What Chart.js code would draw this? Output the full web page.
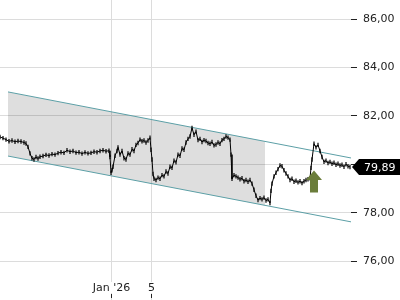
<!DOCTYPE html>
<html>
<head>
<meta charset="utf-8">
<script src="https://cdn.jsdelivr.net/npm/chart.js@4.4.1/dist/chart.umd.min.js"></script>
<style>
  html, body { margin: 0; padding: 0; background: #fff; }
  #chart { display: block; }
</style>
</head>
<body>
<canvas id="chart" width="400" height="300"></canvas>
<script>
// bar index (one per intraday bar) and close price
const barIndex = [0,3,6,9,12,15,18,21,24,26,28,30,32,34,36,38,40,43,46,49,52,55,58,61,64,67,70,73,76,79,82,85,88,91,94,97,100,103,106,109,110,111,112,113,115,117,118,120,122,124,126,128,130,132,134,136,138,140,142,144,146,148,150,151,152,153,154,156,158,160,162,164,166,168,170,172,174,176,178,180,182,184,186,188,190,192,194,196,198,200,202,204,206,208,210,212,214,216,218,220,222,224,226,228,230,231,232,234,236,238,240,242,244,246,248,250,252,254,256,258,260,262,264,266,268,270,271,272,274,276,278,280,282,284,286,288,290,292,294,296,298,300,302,304,306,308,310,311,312,314,316,318,320,322,324,326,328,330,332,334,336,338,340,342,344,346,348,350];
const closes = [81.13,81.08,81.02,80.95,80.98,80.93,80.96,80.94,80.90,80.86,80.72,80.45,80.25,80.20,80.30,80.24,80.31,80.34,80.39,80.36,80.42,80.40,80.46,80.50,80.47,80.58,80.52,80.55,80.48,80.50,80.44,80.49,80.45,80.47,80.52,80.50,80.55,80.58,80.54,80.56,80.30,79.65,79.75,79.90,80.35,80.55,80.70,80.40,80.55,80.25,80.20,80.45,80.40,80.62,80.55,80.80,80.88,81.02,80.95,80.98,80.90,80.98,81.10,80.60,80.20,79.60,79.40,79.35,79.45,79.40,79.55,79.50,79.70,79.62,79.90,79.85,80.15,80.08,80.40,80.35,80.65,80.60,80.90,81.05,81.15,81.50,81.22,81.35,81.00,81.05,80.92,81.00,80.96,80.88,80.85,80.92,80.78,80.82,80.90,80.85,81.00,81.05,81.15,81.10,81.02,80.40,79.40,79.55,79.50,79.45,79.38,79.42,79.30,79.35,79.28,79.35,79.20,78.95,78.70,78.52,78.60,78.55,78.62,78.50,78.55,78.40,78.90,79.20,79.50,79.65,79.80,79.95,79.92,79.75,79.62,79.50,79.35,79.40,79.28,79.32,79.25,79.30,79.22,79.30,79.35,79.38,79.42,79.85,80.20,80.85,80.70,80.80,80.55,80.30,80.10,80.15,80.05,80.10,80.02,80.06,79.98,80.02,79.95,79.98,79.90,80.00,79.92,79.89];

// trend channel (two parallel lines) and shaded part of it
const channelX = [8, 351];
const channelUpper = [82.99, 80.26];
const channelLower = [80.34, 77.62];
const shadeX = [8, 265];
const shadeUpper = [82.99, 80.95];
const shadeLower = [80.34, 78.30];

const lastPrice = 79.89;
const signalBar = 314;
const signalPrice = 79.74;

const yTicks = [76, 78, 80, 82, 84, 86];
const xTickPos = [111, 151];
const xTickLabels = ["Jan '26", "5"];

const pts = (xs, ys) => xs.map((x, i) => ({ x: x, y: ys[i] }));
const fmt = v => v.toFixed(2).replace('.', ',');
const FONT = '11px "DejaVu Sans", sans-serif';

const overlay = {
  id: 'overlay',
  afterDraw(chart) {
    const c = chart.ctx;
    const xs = chart.scales.x, ys = chart.scales.y;
    c.save();
    // x labels
    c.font = FONT;
    c.textAlign = 'center';
    c.textBaseline = 'middle';
    xTickPos.forEach((v, i) => {
      const px = Math.round(xs.getPixelForValue(v)) + 0.5;
      c.fillStyle = '#fff';
      const w = c.measureText(xTickLabels[i]).width;
      c.fillRect(px - w / 2 - 1, 282, w + 2, 11);
      c.fillStyle = '#222';
      c.fillText(xTickLabels[i], px, 288);
      c.strokeStyle = '#222';
      c.lineWidth = 1;
      c.beginPath();
      c.moveTo(px, 294);
      c.lineTo(px, 298);
      c.stroke();
    });
    // buy signal arrow
    const ax = xs.getPixelForValue(signalBar);
    const ay = ys.getPixelForValue(signalPrice);
    c.fillStyle = '#6b7d3b';
    c.beginPath();
    c.moveTo(ax, ay);
    c.lineTo(ax + 8, ay + 9.5);
    c.lineTo(ax + 4, ay + 9.5);
    c.lineTo(ax + 4, ay + 22);
    c.lineTo(ax - 4, ay + 22);
    c.lineTo(ax - 4, ay + 9.5);
    c.lineTo(ax - 8, ay + 9.5);
    c.closePath();
    c.fill();
    // last price box
    const py = ys.getPixelForValue(lastPrice);
    const left = chart.chartArea.right + 1;
    c.fillStyle = '#000';
    c.beginPath();
    c.moveTo(left, py);
    c.lineTo(left + 7, py - 8);
    c.lineTo(400, py - 8);
    c.lineTo(400, py + 8);
    c.lineTo(left + 7, py + 8);
    c.closePath();
    c.fill();
    c.fillStyle = '#fff';
    c.textAlign = 'left';
    c.fillText(fmt(lastPrice), 364, py + 1);
    c.restore();
  }
};

const ctx = document.getElementById('chart').getContext('2d');
const chart = new Chart(ctx, {
  type: 'line',
  data: {
    datasets: [
      {
        label: 'Close',
        data: pts(barIndex, closes),
        borderColor: '#000',
        borderWidth: 1,
        pointRadius: 0,
        tension: 0,
        order: 0
      },
      {
        label: 'Bars',
        data: pts(barIndex, closes),
        showLine: false,
        pointStyle: 'line',
        rotation: 90,
        pointRadius: 2.2,
        pointBorderColor: '#000',
        pointBorderWidth: 1.2,
        order: 1
      },
      {
        label: 'Upper',
        data: pts(channelX, channelUpper),
        borderColor: '#5c9fa6',
        borderWidth: 1,
        pointRadius: 0,
        order: 2
      },
      {
        label: 'Lower',
        data: pts(channelX, channelLower),
        borderColor: '#5c9fa6',
        borderWidth: 1,
        pointRadius: 0,
        order: 3
      },
      {
        label: 'ShadeTop',
        data: pts(shadeX, shadeUpper),
        borderWidth: 0,
        pointRadius: 0,
        fill: '+1',
        backgroundColor: 'rgba(0,0,0,0.13)',
        order: 4
      },
      {
        label: 'ShadeBottom',
        data: pts(shadeX, shadeLower),
        borderWidth: 0,
        pointRadius: 0,
        fill: false,
        order: 5
      }
    ]
  },
  options: {
    responsive: false,
    animation: false,
    layout: { padding: 0, autoPadding: false },
    plugins: {
      legend: { display: false },
      tooltip: { enabled: false }
    },
    scales: {
      x: {
        type: 'linear',
        min: 0,
        max: 351,
        afterBuildTicks: s => { s.ticks = xTickPos.map(v => ({ value: v })); },
        afterFit: s => { s.height = 0; s.paddingLeft = 0; s.paddingRight = 0; s.paddingTop = 0; s.paddingBottom = 0; },
        ticks: { display: false },
        grid: { color: '#dcdcdc', drawTicks: false },
        border: { display: false }
      },
      y: {
        position: 'right',
        min: 74.39,
        max: 86.79,
        afterBuildTicks: s => { s.ticks = yTicks.map(v => ({ value: v })); },
        afterFit: s => { s.width = 49; s.paddingTop = 0; s.paddingBottom = 0; s.paddingLeft = 0; s.paddingRight = 0; },
        ticks: {
          padding: 6,
          color: '#222',
          font: { family: '"DejaVu Sans", sans-serif', size: 11 },
          callback: v => fmt(v)
        },
        grid: { color: '#dcdcdc', tickColor: '#222', tickLength: 6 },
        border: { display: false }
      }
    }
  },
  plugins: [overlay]
});
</script>
</body>
</html>
